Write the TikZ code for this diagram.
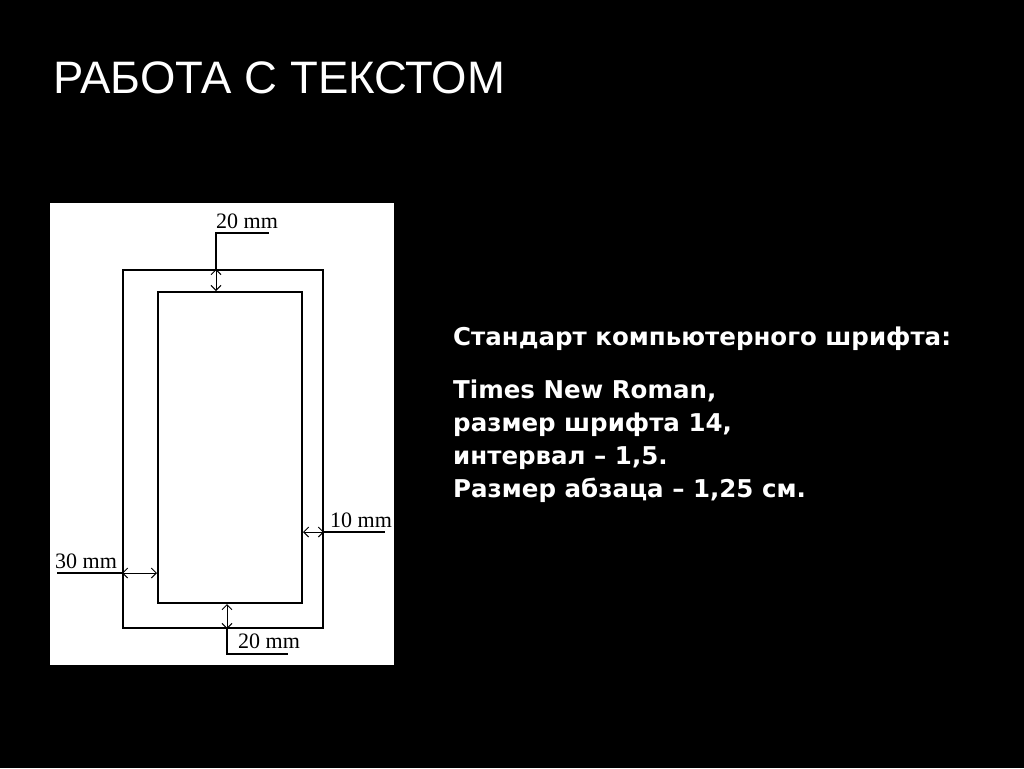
\documentclass[tikz,border=0pt]{standalone}
\usepackage{fontspec}
\setmainfont{Liberation Sans}
\newfontfamily\boldbody{DejaVu Sans}
\newfontfamily\serifmm{Liberation Serif}
\usetikzlibrary{arrows.meta}
\tikzset{
  sheet/.style={
    rectangle, fill=white, draw=none, inner sep=0pt
  },
  frame/.style={
    rectangle, draw=black, line width=2pt, inner sep=0pt
  },
  lead/.style={draw=black, line width=2pt},
  dim/.style={
    {Straight Barb[length=5pt,width=10pt]}-{Straight Barb[length=5pt,width=10pt]}, line width=1pt
  },
  mm/.style={font=\serifmm\fontsize{22}{24}\selectfont, inner sep=0pt, anchor=base west},
  caption/.style={font=\boldbody\bfseries\fontsize{24.5}{33}\selectfont, text=white, inner sep=0pt, align=left}
}

\begin{document}
\begin{tikzpicture}[x=1pt, y=-1pt]
  \fill[black] (0,0) rectangle (1024,768);
  \useasboundingbox (0,0) rectangle (1024,768);
  % heading
  \node[font=\fontsize{45.5}{48}\selectfont, text=white, inner sep=0pt, anchor=base west] (title) at (53,93) {РАБОТА С ТЕКСТОМ};
  % page with margins
  \node[sheet, minimum width=344pt, minimum height=462pt] (page) at (222,434) {};
  \node[frame, minimum width=200pt, minimum height=358pt] (outer) at (223,449) {};
  \node[frame, minimum width=144pt, minimum height=311pt] (inner) at (230,447.5) {};
  % top margin
  \coordinate (top-lead) at (216,233);
  \coordinate (top-end) at (269,233);
  \draw[lead] (outer.north -| top-lead) -- (top-lead) -- (top-end);
  \draw[dim] (outer.north -| top-lead) -- (inner.north -| top-lead);
  \node[mm] (top-mm) at (216,228) {20 mm};
  % bottom margin
  \coordinate (bot-lead) at (227,654);
  \coordinate (bot-end) at (288,654);
  \draw[lead] (outer.south -| bot-lead) -- (bot-lead) -- (bot-end);
  \draw[dim] (inner.south -| bot-lead) -- (outer.south -| bot-lead);
  \node[mm] (bot-mm) at (238,648) {20 mm};
  % right margin
  \coordinate (right-end) at (385,532);
  \draw[lead] (outer.east |- right-end) -- (right-end);
  \draw[dim] (inner.east |- right-end) -- (outer.east |- right-end);
  \node[mm] (right-mm) at (330,527) {10 mm};
  % left margin
  \coordinate (left-end) at (57,573);
  \draw[lead] (left-end) -- (outer.west |- left-end);
  \draw[dim] (outer.west |- left-end) -- (inner.west |- left-end);
  \node[mm] (left-mm) at (55,568) {30 mm};
  % text
  \node[caption, anchor=base west] (std) at (453,345) {Стандарт компьютерного шрифта:};
  \node[caption, anchor=north west] (spec) at (453,379.5) {Times New Roman,\\размер шрифта 14,\\интервал – 1,5.\\Размер абзаца – 1,25 см.};
\end{tikzpicture}
\end{document}
